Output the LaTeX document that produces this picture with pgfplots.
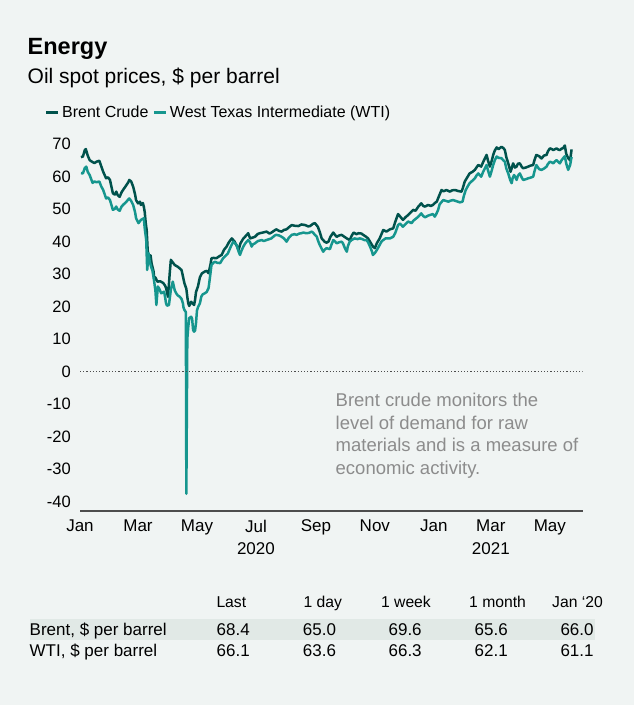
\documentclass[border=0pt]{standalone}
\usepackage{fontspec}
\setmainfont{Liberation Sans}
\usepackage{pgfplots}
\pgfplotsset{compat=1.18}
\definecolor{bg}{RGB}{240,244,243}
\definecolor{hl}{RGB}{225,233,230}
\definecolor{brent}{RGB}{0,82,76}
\definecolor{wti}{RGB}{22,150,142}
\definecolor{axgrey}{RGB}{77,77,77}
\definecolor{notegrey}{RGB}{140,140,140}
\newcommand{\fs}[2]{\fontsize{#1}{#2}\selectfont}
\begin{document}
\begin{tikzpicture}[x=1pt,y=1pt]
\useasboundingbox (0,0) rectangle (634,705);
\fill[bg] (0,0) rectangle (634,705);
\node[anchor=base west, inner sep=0pt, font=\bfseries\fs{23.5}{28}] at (27.5,650) {Energy};
\node[anchor=base west, inner sep=0pt, font=\fs{21}{25}] at (27.5,621.7) {Oil spot prices, \$ per barrel};
\begin{axis}[
  at={(80pt,194pt)}, anchor=south west,
  scale only axis, width=502.7pt, height=373.3pt,
  xmin=0, xmax=520, ymin=-42.9, ymax=72,
  axis x line*=bottom, axis y line*=left,
  y axis line style={draw=none},
  x axis line style={draw=axgrey, line width=1.3pt, -},
  major tick length=0pt,
  xtick={0,60,121,182,244,305,366,425,486},
  xticklabels={Jan,Mar,May,{Jul\\2020},Sep,Nov,Jan,{Mar\\2021},May},
  xticklabel style={font=\fs{17}{22.6}, align=center, inner sep=0pt, anchor=north, yshift=-8.6pt},
  ytick={-40,-30,-20,-10,0,10,20,30,40,50,60,70},
  yticklabels={-40,-30,-20,-10,0,10,20,30,40,50,60,70},
  yticklabel style={font=\fs{16.5}{20}, inner sep=0pt, anchor=east, xshift=-9pt},
  legend columns=2,
  legend style={at={(-0.0766,1.068)}, anchor=west, draw=none, fill=none,
    font=\fs{16}{19}, nodes={inner sep=0pt}, column sep=2.2pt,
    /tikz/every even column/.append style={column sep=4pt}},
  legend image code/.code={\draw[#1, line width=3pt] (0pt,0pt) -- (12.3pt,0pt);},
  every axis plot/.append style={line width=2.5pt, line join=round},
]
\addplot[brent] coordinates {
(1,66.0)(3,66.2)(5,68.2)(6,68.5)(8,66.5)(10,65.1)(13,64.5)(15,64.2)(17,64.6)(20,64.9)(22,63.2)(24,61.5)(27,59.5)(29,59.8)(31,59)(34,54.9)(36,54.5)(37.5,55.4)(39,54.3)(41,53.8)(43,55.2)(44.5,55.9)(48,57.4)(50,58.3)(51,59)(53,58.5)(55,56.9)(57,54.5)(58,52.8)(60,51.8)(62,52.3)(63,51.3)(65,51.9)(66,50.8)(67,49)(68,45.7)(69,43.5)(70,37.4)(71,35.5)(72,34.4)(73,35.8)(74,33.4)(76,31)(77,28.2)(78,29)(80,27.7)(83,27.8)(86,27.3)(88,26.5)(89,25.7)(90,24.5)(91,23)(92,27)(93,31)(94,34.4)(96,33.6)(98,32.8)(101,32.3)(103,31.8)(105,31.3)(106,30)(108,27.2)(110,25.5)(111,23)(112,21)(113,20.2)(115,21.5)(116,21.1)(118,20.5)(119,22)(120,24.5)(122,26.2)(124,29)(126,30.2)(129,30.8)(131,31)(133,30.3)(135,33)(136,34.9)(138,35)(141,34.9)(144,35.5)(146.5,35.9)(149,37.5)(151.7,38.5)(154,39.8)(157,41)(160,40)(162,38.8)(164,37.4)(166,39.5)(169,41)(171,41.6)(174,42.6)(176,41)(178,41.2)(181,41.5)(184,42.4)(186,42.6)(189,42.8)(193,43.1)(196,42.5)(198,42.8)(201,43.4)(203,43.8)(206,43.3)(208.6,43.1)(211,43.6)(213.7,43.8)(216,44.4)(219,45.1)(222,44.9)(226,44.8)(229,45.3)(233,45.1)(236,44.7)(238,44.8)(241,45.5)(243,45.7)(246,44.6)(248,43)(250,41)(253,40)(255,39.7)(257,40)(259,41.5)(262,42.8)(264,42)(265.5,41.5)(268,41.9)(270.6,42.1)(273,41.6)(276,41)(279,40.5)(281,41.8)(283,42.8)(286,42.3)(288,42.6)(291,42.5)(293,42.1)(296,41.5)(298,41)(300,40)(303,38.5)(305,38)(307,39.5)(310,41)(313.7,43.6)(317,43.1)(320.6,43.8)(324,44.1)(326,46)(329,48.5)(331,47.8)(334,46.7)(337,47.6)(339.5,48.2)(342,49)(344.7,49.8)(347,49.5)(350,50.8)(353,51.8)(355,51)(357,50.8)(360,51.3)(363,51)(365,51.3)(367,51.9)(369,52.3)(372,54.5)(374,55.9)(376,55.5)(379,55.9)(382.6,55.4)(385,55.8)(388,55.9)(391,55.6)(394.7,55.4)(396,56.5)(398,58.5)(401,60)(403,61)(406,61.5)(408.5,62.1)(410,62.8)(412,63.6)(415,63.1)(417,64.5)(420.6,66.7)(422,65)(424,63.1)(426,65)(427.4,66.7)(429,68)(431,69)(433,68.5)(436,69.2)(438,68.8)(439.5,68.2)(441,66)(443,64.1)(445.4,61.5)(446.5,62.5)(448,64.1)(450,62.8)(451.6,63.1)(453,64)(455,64.1)(457,63)(458.4,62.6)(461,62.8)(463.6,63.1)(466,63.4)(468.8,63.6)(470,65)(472,66.7)(475,66.3)(477.4,65.6)(480,66.5)(482.6,66.7)(484,67.8)(486,68.7)(488,68.5)(489.6,68.2)(491,68.4)(493,68.7)(495,68.3)(496.4,68.2)(498,68.6)(499.8,68.8)(501.5,69.6)(503,67)(505,65.7)(507,65.0)(508.5,68.4)
};
\addlegendentry{Brent Crude}
\addplot[wti] coordinates {
(1,61.1)(3,61)(5,62.7)(6.5,63.1)(8,61.5)(10,60.5)(13,58.1)(15,58.5)(17,58.3)(20,58.5)(22,57)(24,55.9)(27,53.3)(29,53.6)(31,52.8)(34,49.8)(36,50.1)(37.5,50.8)(39,49.9)(41,49.5)(43,50.8)(44.5,51.3)(48,52.3)(50,53)(51,53.3)(53,52.5)(55,51.3)(57,49)(58,47.2)(60.5,45.7)(63,46.7)(66,47.2)(67,44)(68.5,40.5)(69.5,31.3)(71,36.4)(72,34)(73.5,32.3)(75,31)(76.5,28.2)(78,25)(79,20.5)(80.5,26.2)(82,25.5)(84,24.1)(87,24.6)(88,23)(89,21)(90,20.3)(92,20.5)(94,25.3)(96,27.7)(98,25)(99.5,24.1)(101,23.5)(103,23.1)(105,22.4)(106.5,21)(107,19.8)(108,19)(109.5,18.3)(110,-37.6)(111,10)(112,13.8)(113,16.5)(115,16.9)(116,16.2)(117,12.8)(118,12.3)(119,12.6)(120,15)(121,18.8)(122,19.8)(124,21)(125.5,23.1)(127,23.8)(129,24.1)(131,24.5)(133,25.7)(134,28)(136,32.8)(138,33.5)(139.6,33.8)(142,33.5)(145,33.4)(148,34.9)(150,35.5)(153,36.4)(156,38.5)(158.5,40)(160,39.6)(162,39)(164,37)(165.5,35.9)(167,37.2)(169,38.5)(171,39.5)(174,40.5)(176,39.8)(177.5,38.5)(179,39.2)(181,39.5)(184,40.2)(188,40.5)(190,40.2)(193,40.5)(196,40.8)(198,41)(201,41.8)(203,42.1)(206,41.9)(208.6,41.5)(211,41)(213.7,40)(216,41.2)(219,42.1)(222,42.3)(224,42.1)(227,42.5)(229,42.6)(231,42.8)(234,42.6)(237,42.7)(239.6,43.1)(241,42.8)(243,42.1)(245,41.5)(246,40.5)(248,39)(251.6,36.9)(253,37.5)(255,38)(258.5,37.7)(260,39)(262,40.5)(264,40)(265.5,39.5)(268,39.8)(270.6,40)(272,39.5)(274,38)(276,36.9)(277,38.5)(279,40)(281,40.5)(284,41)(287,40.8)(289.5,41)(292,40.8)(294,40.5)(296.5,40.5)(298,39.8)(300,38.5)(302,37)(303,35.9)(305,36.5)(307,37.4)(310,39)(312,40.1)(313.7,40.5)(316,41)(319,41)(320.6,41)(324,41.5)(326,42.6)(329,45.1)(331,45.6)(334,44.6)(337,45.5)(339.5,46.2)(343,45.7)(345,46.5)(348,47.2)(350,47.7)(353,48.7)(355,47.9)(357,47.5)(360,48)(362,48.2)(365,48.5)(367,47.7)(368.5,48.5)(370.5,49.8)(372,51.5)(375.7,52.8)(378,52.6)(381,52.3)(383,52.6)(386,52.8)(388,52.6)(391,52.3)(393,52.1)(395.7,52.3)(397,54)(399,55.9)(401,57)(403,58)(406,58.8)(408.5,59.5)(410,60.3)(412,61)(415,60)(417,61.5)(420.6,63.6)(422,62)(424,60)(426,62)(427.4,63.6)(429,65)(431,66.2)(433,65.8)(436,65.7)(438,65)(439.5,64.6)(441,62.5)(443,61)(445,59)(446.5,58)(447.5,59.5)(449,60.5)(450.5,59.8)(451.6,59)(453,60.3)(455,61)(457,59.7)(458.4,59)(461,59.2)(463.6,59.5)(466,59.7)(468.8,60)(470,61.5)(472,63.6)(475,62.3)(477.4,62.1)(480,62.5)(482.6,63.1)(484,63.9)(486,64.6)(488,64.4)(489.6,64.1)(491,64.6)(493,65.1)(495,64.5)(496.4,64.1)(498,65)(499.8,65.7)(501.5,66.3)(503,64)(505,62.1)(507,63.6)(508.5,66.1)
};
\addlegendentry{West Texas Intermediate (WTI)}
\addplot[axgrey, line width=0.9pt, dash pattern=on 1.2pt off 2pt, forget plot] coordinates {(0,0) (520,0)};
\end{axis}
\begin{scope}[every node/.style={anchor=base west, inner sep=0pt}]
\node[font=\fs{18.5}{22.7}, text=notegrey] at (335.5,298.3) {Brent crude monitors the};
\node[font=\fs{18.5}{22.7}, text=notegrey] at (335.5,275.6) {level of demand for raw};
\node[font=\fs{18.5}{22.7}, text=notegrey] at (335.5,253.3) {materials and is a measure of};
\node[font=\fs{18.5}{22.7}, text=notegrey] at (335.5,230) {economic activity.};
\fill[hl] (30.3,65) rectangle (595.2,85.7);
\node[font=\fs{15.7}{19}] at (216.3,97.3) {Last};
\node[font=\fs{15.7}{19}] at (303.3,97.3) {1 day};
\node[font=\fs{15.7}{19}] at (380.9,97.3) {1 week};
\node[font=\fs{15.7}{19}] at (469,97.3) {1 month};
\node[font=\fs{15.7}{19}] at (552,97.3) {Jan ‘20};
\node[font=\fs{17}{20}] at (29.5,69) {Brent, \$ per barrel};
\node[font=\fs{17}{20}] at (29.5,48.4) {WTI, \$ per barrel};
\node[font=\fs{17}{20}] at (216.5,69) {68.4};
\node[font=\fs{17}{20}] at (302.7,69) {65.0};
\node[font=\fs{17}{20}] at (388.4,69) {69.6};
\node[font=\fs{17}{20}] at (474.5,69) {65.6};
\node[font=\fs{17}{20}] at (560.3,69) {66.0};
\node[font=\fs{17}{20}] at (216.5,48.4) {66.1};
\node[font=\fs{17}{20}] at (302.7,48.4) {63.6};
\node[font=\fs{17}{20}] at (388.4,48.4) {66.3};
\node[font=\fs{17}{20}] at (474.5,48.4) {62.1};
\node[font=\fs{17}{20}] at (560.3,48.4) {61.1};
\end{scope}
\end{tikzpicture}
\end{document}
